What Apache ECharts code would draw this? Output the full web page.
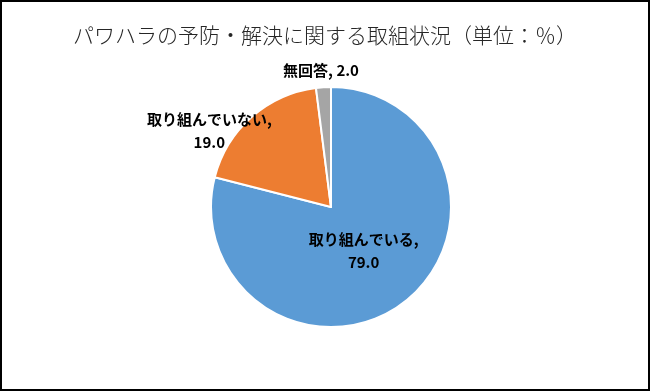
<!DOCTYPE html>
<html><head><meta charset="utf-8">
<script src="https://cdn.jsdelivr.net/npm/echarts@6/dist/echarts.min.js"></script>
<style>html,body{margin:0;padding:0;background:#fff}#c{width:650px;height:391px}</style>
</head><body><div id="c"></div>
<script>
const categories = ['取り組んでいる', '取り組んでいない', '無回答'];
const values = [79.0, 19.0, 2.0];
const colors = ['#5B9BD5', '#ED7D31', '#A5A5A5'];
const labelOffsets = [[-6, -6], [-80, -29], [-6, -74]];

const chart = echarts.init(document.getElementById('c'), null, {renderer: 'canvas'});
chart.setOption({
  animation: false,
  backgroundColor: '#fff',
  title: {
    text: 'パワハラの予防・解決に関する取組状況（単位：％）',
    left: 'center', top: 20,
    textStyle: {fontFamily: 'Noto Sans CJK JP', fontWeight: 300, fontSize: 21, color: '#262626'}
  },
  graphic: [{type: 'rect', shape: {x: 1, y: 1, width: 648, height: 389}, style: {fill: 'none', stroke: '#000', lineWidth: 2}}],
  series: [{
    type: 'pie',
    center: [331, 207],
    radius: [0, 120],
    startAngle: 90,
    clockwise: true,
    itemStyle: {borderColor: '#fff', borderWidth: 2},
    labelLine: {show: false},
    label: {
      position: 'inside',
      fontFamily: 'Noto Sans CJK JP',
      fontWeight: 'bold', fontSize: 15, color: '#000', lineHeight: 23,
      formatter: p => p.dataIndex === 2 ? p.name + ', ' + p.value.toFixed(1) : p.name + ',\n' + p.value.toFixed(1)
    },
    data: categories.map((n, i) => ({name: n, value: values[i], itemStyle: {color: colors[i]}, label: {offset: labelOffsets[i]}}))
  }]
});
</script></body></html>
